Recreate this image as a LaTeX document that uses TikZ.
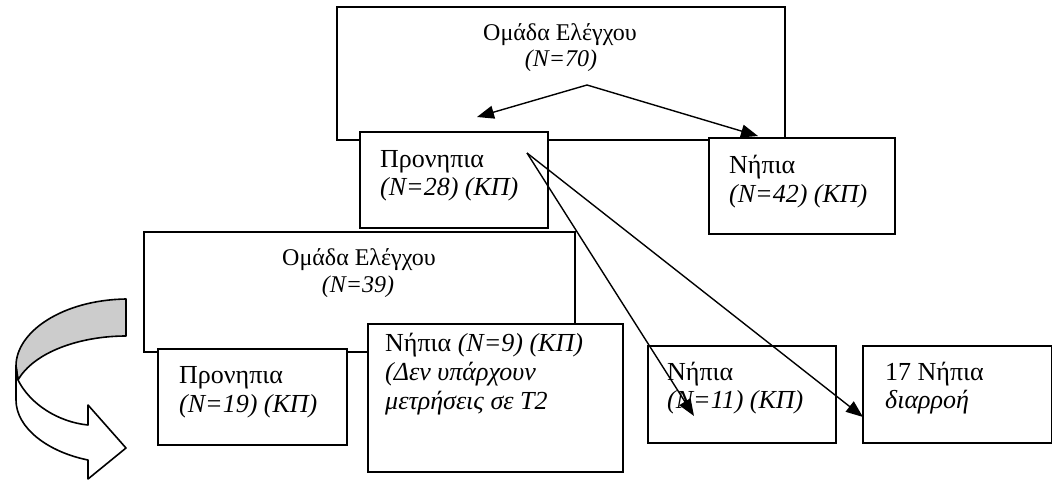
\documentclass[tikz,border=0pt]{standalone}
\usepackage{fontspec}
\setmainfont{Liberation Serif}
\usetikzlibrary{arrows.meta}
\begin{document}
\begin{tikzpicture}[x=1pt,y=-1pt,
  box/.style={draw=black, fill=white, line width=1.9pt, rectangle, inner sep=0pt, anchor=north west},
  txt/.style={anchor=base west, inner sep=0pt, font=\fontsize{26}{28}\selectfont},
  ctxt/.style={anchor=base, inner sep=0pt, font=\fontsize{24}{27}\selectfont},
  conn/.style={line width=1.4pt, -{Triangle[length=17pt,width=13pt]}},
  curv/.style={draw=black, line width=1.6pt, line join=round}]
\useasboundingbox (0,0) rectangle (1052,480);
% top group
\node[box, minimum width=448pt, minimum height=133pt] (top) at (336,6) {};
\node[ctxt] (topa) at (560,40) {Ομάδα Ελέγχου};
\node[ctxt] (topb) at (561,66) {\itshape (N=70)};
\node[box, minimum width=188pt, minimum height=96pt] (pro28) at (359,131) {};
\node[txt] (pro28a) at (380,167) {Προνηπια};
\node[txt] (pro28b) at (380,195) {\itshape (N=28) (ΚΠ)};
\node[box, minimum width=186pt, minimum height=96pt] (nip42) at (708,137) {};
\node[txt] (nip42a) at (729,173) {Νήπια};
\node[txt] (nip42b) at (729,202) {\itshape (N=42) (ΚΠ)};
% lower group
\node[box, minimum width=431pt, minimum height=120pt] (low) at (143,231) {};
\node[ctxt] (lowa) at (359,265) {Ομάδα Ελέγχου};
\node[ctxt] (lowb) at (358,292) {\itshape (N=39)};
\node[box, minimum width=189pt, minimum height=96pt] (pro19) at (157,348) {};
\node[txt] (pro19a) at (179,383) {Προνηπια};
\node[txt] (pro19b) at (179,412) {\itshape (N=19) (ΚΠ)};
\node[box, minimum width=255pt, minimum height=148pt] (nip9) at (367,323) {};
\node[txt] (nip9a) at (385,351) {Νήπια \itshape (N=9) (ΚΠ)};
\node[txt] (nip9b) at (385,380) {\itshape (Δεν υπάρχουν};
\node[txt] (nip9c) at (385,409) {\itshape μετρήσεις σε Τ2};
\node[box, minimum width=188pt, minimum height=97pt] (nip11) at (647,345) {};
\node[txt] (nip11a) at (667,380) {Νήπια};
\node[txt] (nip11b) at (667,408) {\itshape (N=11) (ΚΠ)};
\node[box, minimum width=189pt, minimum height=97pt] (dro) at (862,345) {};
\node[txt] (droa) at (885,380) {17 Νήπια};
\node[txt] (drob) at (885,408) {\itshape διαρροή};
% connectors
\coordinate (s1) at (587,85);
\coordinate (e1) at (477,117);
\coordinate (e2) at (758,136);
\coordinate (s2) at (527,153);
\coordinate (e3) at (694,416);
\coordinate (e4) at (863,417);
\draw[conn] (s1) -- (e1);
\draw[conn] (s1) -- (e2);
\draw[conn] (s2) -- (e3);
\draw[conn] (s2) -- (e4);
% curved arrow (back face)
\filldraw[curv, fill=black!20] (126,299) .. controls (62,300) and (16,332) .. (16,366)
  -- (18,380) .. controls (34,352) and (80,336) .. (126,336) -- cycle;
% front face
\filldraw[curv, fill=white] (18,380) .. controls (30,404) and (58,422) .. (88,425)
  -- (88,405) -- (126,448) -- (88,479) -- (88,460)
  .. controls (48,452) and (16,428) .. (16,400) -- (16,366) -- cycle;
\end{tikzpicture}
\end{document}
